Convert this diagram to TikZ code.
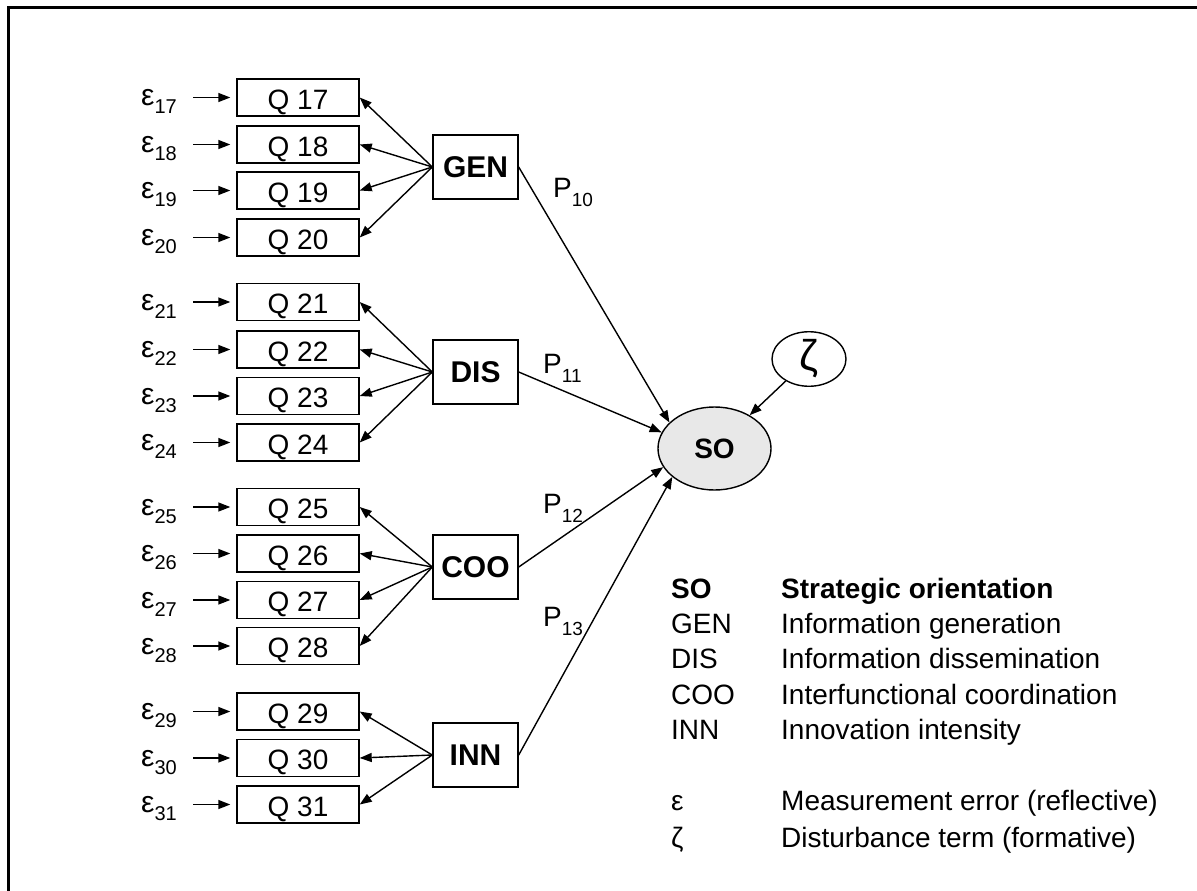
\documentclass[tikz,border=0pt]{standalone}
\usepackage{fontspec}
\setmainfont{Liberation Sans}
\usetikzlibrary{arrows.meta,shapes.geometric}
\definecolor{sofill}{RGB}{232,232,232}
% symbol with lowered index, e.g. error terms and path coefficients
\newcommand\errsym[1]{{\fontsize{30}{30}\selectfont ε}\raisebox{-8pt}{\fontsize{20}{20}\selectfont #1}}
\newcommand\pathsym[1]{{\fontsize{28}{28}\selectfont P}\raisebox{-9pt}{\fontsize{19}{19}\selectfont #1}}
\begin{document}
\begin{tikzpicture}[x=1pt,y=-1pt,
  item/.style={draw, line width=1.4pt, minimum width=122pt, minimum height=37pt,
    inner sep=0pt, text height=23pt, text depth=0pt, font=\fontsize{28}{28}\selectfont},
  latent/.style={draw, line width=1.4pt, minimum width=85pt, minimum height=64pt,
    inner sep=0pt, font=\fontsize{30}{30}\selectfont\bfseries},
  errlab/.style={anchor=base west, inner sep=0pt},
  coef/.style={anchor=base west, inner sep=0pt},
  tip/.style={-{Triangle[length=12pt,width=9pt]}, line width=1.4pt},
  legend/.style={anchor=base west, inner sep=0pt, font=\fontsize{28}{28}\selectfont},
]
\useasboundingbox (0,0) rectangle (1197,891);
% frame
\draw[line width=2.5pt] (1197,7.5) -- (8.5,7.5) -- (8.5,891);

% indicators with their error terms
\foreach \n/\y in {17/97.5,18/144.5,19/190.5,20/237.5,
                   21/302,22/349.5,23/396,24/442.5,
                   25/507,26/553.5,27/600,28/646,
                   29/711.5,30/758,31/804.5}{
  \node[item] (q\n) at (298,\y) {Q \n};
  \node[errlab] (e\n) at (141,{\y+8}) {\errsym{\n}};
  \draw[tip, shorten <=16pt, shorten >=6pt] (e\n.east |- q\n.west) -- (q\n.west);
}

% constructs
\node[latent] (gen) at (475.5,167) {GEN};
\node[latent] (dis) at (475.5,372) {DIS};
\node[latent] (coo) at (475.5,567) {COO};
\node[latent] (inn) at (475.5,755) {INN};

\foreach \n in {17,18,19,20} \draw[tip] (gen.west) -- (q\n.east);
\foreach \n in {21,22,23,24} \draw[tip] (dis.west) -- (q\n.east);
\foreach \n in {25,26,27,28} \draw[tip] (coo.west) -- (q\n.east);
\foreach \n in {29,30,31} \draw[tip] (inn.west) -- (q\n.east);

% second-order construct and disturbance
\node[ellipse, draw, line width=1.4pt, fill=sofill, minimum width=113pt, minimum height=83pt,
  inner sep=0pt, font=\fontsize{28}{28}\selectfont\bfseries] (so) at (714.5,448.5) {SO};
\node[ellipse, draw, line width=1.4pt, minimum width=74pt, minimum height=52pt,
  inner sep=0pt, font=\fontsize{43}{43}\selectfont] (zeta) at (809,359) {ζ};

\draw[tip] (gen.east) -- (so.150);
\draw[tip] (dis.east) -- (so.163);
\draw[tip] (coo.east) -- (so.200);
\draw[tip] (inn.east) -- (so.214);
\draw[tip] (zeta) -- (so);

% path coefficients
\node[coef] (p10) at (553,197) {\pathsym{10}};
\node[coef] (p11) at (543,373) {\pathsym{11}};
\node[coef] (p12) at (543,513) {\pathsym{12}};
\node[coef] (p13) at (543,626) {\pathsym{13}};

% legend
\node[legend, font=\fontsize{28}{28}\selectfont\bfseries] (k1) at (671,598) {SO};
\node[legend, font=\fontsize{28}{28}\selectfont\bfseries] (d1) at (781,598) {Strategic orientation};
\node[legend] (k2) at (671,633) {GEN};
\node[legend] (d2) at (781,633) {Information generation};
\node[legend] (k3) at (671,668) {DIS};
\node[legend] (d3) at (781,668) {Information dissemination};
\node[legend] (k4) at (671,704) {COO};
\node[legend] (d4) at (781,704) {Interfunctional coordination};
\node[legend] (k5) at (671,739) {INN};
\node[legend] (d5) at (781,739) {Innovation intensity};
\node[legend] (k6) at (671,810) {ε};
\node[legend] (d6) at (781,810) {Measurement error (reflective)};
\node[legend] (k7) at (671,847) {ζ};
\node[legend] (d7) at (781,847) {Disturbance term (formative)};
\end{tikzpicture}
\end{document}
